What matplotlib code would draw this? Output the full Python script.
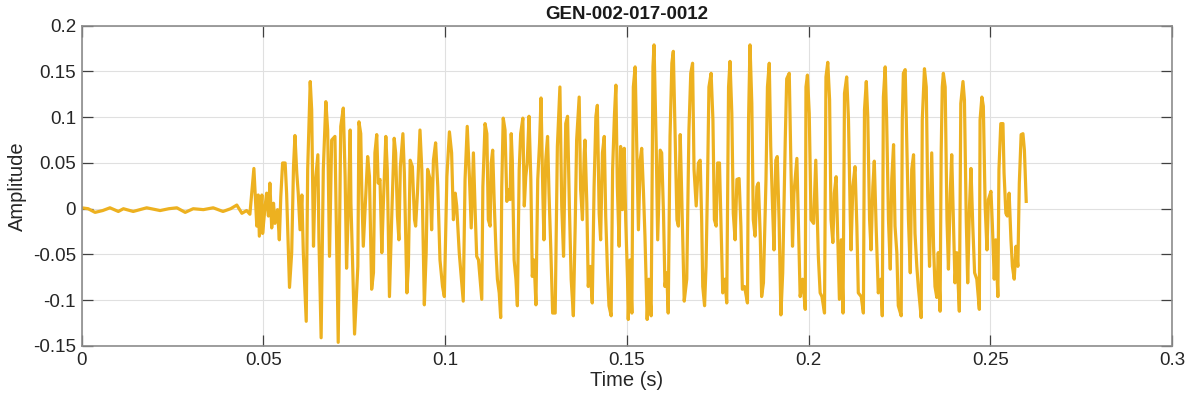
import numpy as np
import matplotlib
matplotlib.use("Agg")
import matplotlib.pyplot as plt
from matplotlib.ticker import FuncFormatter

# Waveform, one segment per stretch of the recording
# (time in seconds, amplitude in signal units)

# Silence before the onset
t_quiet = [0.0, 0.0018, 0.0037, 0.0058, 0.0078, 0.0101, 0.0115, 0.0142, 0.0160,
           0.0179, 0.0216, 0.0240, 0.0262, 0.0285, 0.0307, 0.0335, 0.0362, 0.0389,
           0.0410, 0.0427, 0.0441, 0.0454, 0.0463]
a_quiet = [0.001, 0.000, -0.004, -0.002, 0.001, -0.003, 0.000, -0.003, -0.001,
           0.001, -0.002, 0.000, 0.001, -0.004, 0.000, -0.001, 0.001, -0.003,
           0.000, 0.004, -0.005, -0.002, -0.006]

# Onset, 0.047 - 0.075 s
t_onset = [0.0474, 0.0482, 0.0486, 0.0489, 0.0496, 0.0498, 0.0505, 0.0509, 0.0514,
           0.0518, 0.0523, 0.0528, 0.0532, 0.0539, 0.0544, 0.0548, 0.0553, 0.0560,
           0.0564, 0.0572, 0.0578, 0.0583, 0.0587, 0.0592, 0.0596, 0.0601, 0.0606,
           0.0610, 0.0618, 0.0622, 0.0629, 0.0633, 0.0638, 0.0642, 0.0650, 0.0653,
           0.0659, 0.0665, 0.0672, 0.0677, 0.0682, 0.0688, 0.0697, 0.0706, 0.0713,
           0.0720, 0.0725, 0.0729, 0.0734, 0.0739, 0.0741, 0.0751]
a_onset = [0.044, -0.019, 0.015, -0.030, 0.015, -0.027, 0.003, 0.017, -0.008,
           0.028, -0.021, 0.006, -0.016, -0.001, -0.034, 0.013, 0.050, 0.050,
           0.017, -0.086, -0.048, 0.046, 0.080, 0.039, 0.017, -0.023, 0.015,
           -0.048, -0.123, 0.043, 0.139, 0.108, -0.041, 0.024, 0.059, -0.034,
           -0.141, 0.043, 0.117, 0.086, -0.052, 0.075, 0.079, -0.146, 0.090,
           0.110, 0.035, -0.065, 0.003, 0.086, 0.006, -0.137]

# 0.076 - 0.108 s
t_mid1 = [0.0760, 0.0763, 0.0768, 0.0771, 0.0775, 0.0782, 0.0787, 0.0792, 0.0798,
          0.0803, 0.0807, 0.0812, 0.0816, 0.0821, 0.0826, 0.0830, 0.0837, 0.0841,
          0.0847, 0.0853, 0.0860, 0.0864, 0.0869, 0.0873, 0.0877, 0.0884, 0.0888,
          0.0895, 0.0899, 0.0904, 0.0910, 0.0916, 0.0919, 0.0924, 0.0931, 0.0936,
          0.0943, 0.0948, 0.0952, 0.0959, 0.0963, 0.0968, 0.0974, 0.0980, 0.0986,
          0.0993, 0.0998, 0.1005, 0.1012, 0.1018, 0.1023, 0.1028, 0.1032, 0.1039,
          0.1050, 0.1055, 0.1061, 0.1067, 0.1072, 0.1078]
a_mid1 = [-0.063, 0.095, 0.082, 0.017, -0.041, 0.017, 0.057, 0.035, -0.088,
          -0.070, 0.061, 0.081, 0.028, 0.032, -0.048, 0.003, 0.079, 0.043,
          -0.096, -0.012, 0.077, 0.061, -0.008, -0.034, 0.046, 0.082, 0.039,
          -0.092, -0.063, 0.053, 0.046, -0.012, -0.019, 0.017, 0.086, 0.043,
          -0.105, -0.048, 0.043, 0.032, -0.023, 0.053, 0.072, 0.024, -0.056,
          -0.085, -0.096, 0.035, 0.084, 0.061, -0.012, 0.017, 0.003, -0.048,
          -0.101, 0.032, 0.090, 0.035, -0.021, 0.061]

# 0.108 - 0.138 s
t_mid2 = [0.1083, 0.1087, 0.1092, 0.1101, 0.1104, 0.1110, 0.1115, 0.1119, 0.1124,
          0.1127, 0.1131, 0.1135, 0.1140, 0.1144, 0.1149, 0.1153, 0.1156, 0.1160,
          0.1165, 0.1170, 0.1174, 0.1179, 0.1182, 0.1185, 0.1190, 0.1195, 0.1199,
          0.1204, 0.1208, 0.1214, 0.1218, 0.1222, 0.1226, 0.1231, 0.1236, 0.1240,
          0.1245, 0.1250, 0.1255, 0.1260, 0.1264, 0.1269, 0.1272, 0.1277, 0.1282,
          0.1286, 0.1291, 0.1296, 0.1303, 0.1309, 0.1316, 0.1321, 0.1326, 0.1332,
          0.1337, 0.1342, 0.1347, 0.1353, 0.1358, 0.1362, 0.1369, 0.1373, 0.1378,
          0.1383]
a_mid2 = [-0.005, -0.052, -0.056, -0.099, 0.024, 0.093, 0.082, -0.012, -0.019,
          0.050, 0.064, 0.010, -0.045, -0.077, -0.092, -0.119, 0.024, 0.099,
          0.086, 0.008, 0.021, 0.010, 0.082, 0.053, -0.056, -0.077, -0.106,
          0.043, 0.082, 0.099, 0.003, 0.035, 0.050, 0.101, 0.032, -0.074,
          -0.056, -0.105, 0.032, 0.072, 0.121, 0.017, -0.034, 0.053, 0.079,
          0.017, -0.045, -0.114, -0.114, 0.068, 0.133, 0.003, -0.052, 0.093,
          0.101, 0.003, -0.077, -0.117, -0.019, 0.075, 0.122, 0.021, -0.012,
          0.061]

# 0.138 - 0.170 s
t_loud1 = [0.1385, 0.1390, 0.1394, 0.1399, 0.1405, 0.1410, 0.1415, 0.1419, 0.1424,
           0.1428, 0.1433, 0.1438, 0.1442, 0.1447, 0.1451, 0.1457, 0.1461, 0.1466,
           0.1470, 0.1474, 0.1479, 0.1483, 0.1488, 0.1493, 0.1497, 0.1502, 0.1504,
           0.1509, 0.1514, 0.1518, 0.1523, 0.1528, 0.1532, 0.1537, 0.1541, 0.1546,
           0.1550, 0.1556, 0.1561, 0.1567, 0.1572, 0.1575, 0.1581, 0.1585, 0.1592,
           0.1596, 0.1601, 0.1605, 0.1610, 0.1614, 0.1619, 0.1624, 0.1628, 0.1633,
           0.1638, 0.1642, 0.1647, 0.1651, 0.1658, 0.1665, 0.1671, 0.1676, 0.1681,
           0.1685, 0.1691, 0.1697, 0.1702]
a_loud1 = [0.075, 0.006, -0.085, -0.063, -0.103, 0.024, 0.101, 0.113, -0.005,
           -0.034, 0.061, 0.079, -0.008, -0.070, -0.106, -0.117, 0.043, 0.102,
           0.135, 0.024, -0.041, 0.068, -0.001, 0.066, -0.012, -0.077, -0.121,
           -0.056, -0.114, 0.133, 0.155, 0.053, -0.023, 0.053, 0.066, 0.017,
           -0.030, -0.121, -0.077, -0.117, 0.155, 0.179, 0.068, -0.034, 0.064,
           0.061, -0.005, -0.085, -0.070, -0.114, 0.079, 0.159, 0.172, 0.079,
           -0.012, -0.019, 0.081, 0.017, -0.101, -0.077, 0.086, 0.148, 0.159,
           0.043, 0.003, 0.050, 0.053]

# 0.170 - 0.202 s
t_loud2 = [0.1706, 0.1709, 0.1714, 0.1718, 0.1722, 0.1726, 0.1732, 0.1737, 0.1741,
           0.1746, 0.1750, 0.1755, 0.1759, 0.1764, 0.1770, 0.1775, 0.1780, 0.1784,
           0.1789, 0.1793, 0.1798, 0.1803, 0.1809, 0.1814, 0.1818, 0.1824, 0.1832,
           0.1835, 0.1839, 0.1844, 0.1848, 0.1853, 0.1858, 0.1862, 0.1867, 0.1871,
           0.1876, 0.1883, 0.1887, 0.1892, 0.1896, 0.1901, 0.1905, 0.1910, 0.1914,
           0.1919, 0.1924, 0.1929, 0.1936, 0.1940, 0.1947, 0.1951, 0.1956, 0.1960,
           0.1968, 0.1972, 0.1977, 0.1984, 0.1991, 0.1993, 0.1997, 0.2002, 0.2007,
           0.2014, 0.2020]
a_loud2 = [-0.012, -0.085, -0.106, -0.063, 0.024, 0.133, 0.148, 0.097, -0.012,
           -0.019, 0.050, 0.050, -0.012, -0.092, -0.077, -0.103, 0.133, 0.161,
           0.104, -0.005, -0.034, 0.032, 0.033, -0.019, -0.088, -0.085, -0.103,
           0.097, 0.179, 0.115, -0.012, -0.030, 0.024, 0.028, -0.027, -0.096,
           -0.081, 0.032, 0.133, 0.159, 0.068, 0.003, -0.045, 0.053, 0.057,
           -0.012, -0.116, -0.070, 0.075, 0.142, 0.148, 0.061, -0.041, 0.017,
           0.055, -0.012, -0.096, -0.077, -0.110, 0.133, 0.146, 0.104, -0.012,
           -0.016, 0.053]

# 0.202 - 0.233 s
t_loud3 = [0.2023, 0.2027, 0.2032, 0.2037, 0.2044, 0.2048, 0.2053, 0.2058, 0.2062,
           0.2067, 0.2071, 0.2076, 0.2081, 0.2085, 0.2090, 0.2095, 0.2099, 0.2105,
           0.2110, 0.2115, 0.2117, 0.2122, 0.2128, 0.2133, 0.2137, 0.2145, 0.2151,
           0.2154, 0.2159, 0.2163, 0.2168, 0.2172, 0.2177, 0.2181, 0.2186, 0.2192,
           0.2199, 0.2203, 0.2206, 0.2211, 0.2215, 0.2220, 0.2225, 0.2229, 0.2234,
           0.2238, 0.2243, 0.2247, 0.2255, 0.2258, 0.2261, 0.2266, 0.2270, 0.2275,
           0.2280, 0.2284, 0.2289, 0.2293, 0.2298, 0.2302, 0.2310, 0.2313, 0.2319,
           0.2324, 0.2328, 0.2333]
a_loud3 = [0.006, -0.052, -0.092, -0.096, -0.114, 0.144, 0.160, 0.119, -0.012,
           -0.037, 0.017, 0.035, -0.041, -0.099, -0.034, -0.114, 0.126, 0.144,
           0.097, -0.012, -0.045, 0.024, 0.046, -0.019, -0.092, -0.096, -0.114,
           0.108, 0.139, 0.101, -0.012, -0.045, 0.024, 0.052, -0.019, -0.092,
           -0.077, -0.117, 0.122, 0.155, 0.097, -0.012, -0.066, 0.032, 0.070,
           -0.019, -0.048, -0.106, -0.117, 0.097, 0.148, 0.152, 0.079, -0.012,
           -0.070, 0.043, 0.059, -0.027, -0.063, -0.085, -0.119, 0.097, 0.153,
           0.133, 0.013, -0.063]

# Decay, 0.234 - 0.260 s
t_tail = [0.2339, 0.2344, 0.2348, 0.2353, 0.2357, 0.2362, 0.2365, 0.2368, 0.2371,
          0.2376, 0.2381, 0.2385, 0.2390, 0.2394, 0.2399, 0.2403, 0.2408, 0.2415,
          0.2419, 0.2425, 0.2429, 0.2434, 0.2438, 0.2443, 0.2447, 0.2452, 0.2457,
          0.2463, 0.2470, 0.2472, 0.2477, 0.2481, 0.2486, 0.2491, 0.2495, 0.2502,
          0.2506, 0.2511, 0.2515, 0.2521, 0.2524, 0.2529, 0.2535, 0.2538, 0.2543,
          0.2547, 0.2552, 0.2557, 0.2561, 0.2566, 0.2571, 0.2576, 0.2580, 0.2585,
          0.2590, 0.2594, 0.2599]
a_tail = [0.061, -0.041, -0.085, -0.097, -0.048, -0.112, 0.061, 0.133, 0.148,
          0.133, -0.012, -0.066, 0.017, 0.059, -0.019, -0.081, -0.048, -0.112,
          0.115, 0.139, 0.119, -0.012, -0.081, 0.003, 0.044, -0.019, -0.070,
          -0.077, -0.110, 0.097, 0.122, 0.112, 0.003, -0.045, 0.010, 0.019,
          -0.019, -0.077, -0.034, -0.096, 0.043, 0.093, 0.093, 0.039, -0.005,
          -0.008, 0.017, -0.034, -0.063, -0.077, -0.041, -0.063, 0.028, 0.081,
          0.082, 0.064, 0.008]

title_text = "GEN-002-017-0012"
x_ticks = [0, 0.05, 0.1, 0.15, 0.2, 0.25, 0.3]
y_ticks = [-0.15, -0.1, -0.05, 0, 0.05, 0.1, 0.15, 0.2]


def collect_signal():
    t_parts = [t_quiet, t_onset, t_mid1, t_mid2, t_loud1, t_loud2, t_loud3, t_tail]
    a_parts = [a_quiet, a_onset, a_mid1, a_mid2, a_loud1, a_loud2, a_loud3, a_tail]
    t = np.concatenate([np.asarray(p, dtype=float) for p in t_parts])
    a = np.concatenate([np.asarray(p, dtype=float) for p in a_parts])
    return t, a


def main():
    plt.rcParams['font.family'] = ['Liberation Sans', 'DejaVu Sans']

    t, a = collect_signal()

    fig = plt.figure(figsize=(11.88, 4.04), dpi=100)
    ax = fig.add_axes([0.0687, 0.1436, 0.9178, 0.7928])

    ax.plot(t, a, color='#EDB120', linewidth=2.3, solid_joinstyle='round')

    ax.set_xlim(0, 0.3)
    ax.set_ylim(-0.15, 0.2)
    ax.set_xticks(x_ticks)
    ax.set_yticks(y_ticks)
    fmt = FuncFormatter(lambda v, pos: f"{v:g}")
    ax.xaxis.set_major_formatter(fmt)
    ax.yaxis.set_major_formatter(fmt)

    ax.grid(True, color='#e0e0e0', linewidth=0.8)
    ax.set_axisbelow(True)
    for s in ax.spines.values():
        s.set_color('#8c8c8c')
        s.set_linewidth(1.2)
    ax.tick_params(direction='in', length=8, width=0.9, color='#404040',
                   top=True, right=True, labelsize=13.5, labelcolor='#262626',
                   pad=4)

    ax.set_xlabel("Time (s)", fontsize=14.5, color='#262626', labelpad=2)
    ax.set_ylabel("Amplitude", fontsize=14.5, color='#262626', labelpad=4)
    ax.set_title(title_text, fontsize=13.5, fontweight='bold', color='#1a1a1a', pad=5)

    fig.savefig("out.png", dpi=100)


if __name__ == "__main__":
    main()
